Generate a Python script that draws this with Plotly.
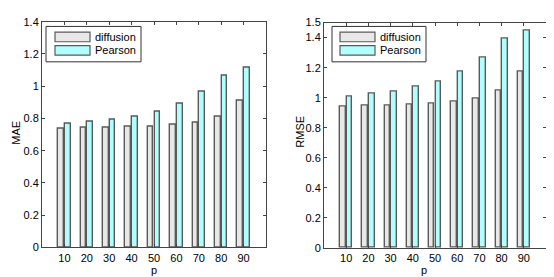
import plotly.graph_objects as go

p_vals = [10, 20, 30, 40, 50, 60, 70, 80, 90]
mae_diffusion = [0.737, 0.740, 0.742, 0.746, 0.750, 0.760, 0.776, 0.814, 0.908]
mae_pearson = [0.766, 0.777, 0.790, 0.811, 0.840, 0.889, 0.964, 1.064, 1.114]
rmse_diffusion = [0.944, 0.947, 0.950, 0.955, 0.960, 0.974, 0.994, 1.045, 1.173]
rmse_pearson = [1.008, 1.025, 1.042, 1.071, 1.110, 1.175, 1.270, 1.392, 1.450]
series_names = ["diffusion", "Pearson"]

W, H = 554, 277
FONT = "Liberation Sans, Arial, Helvetica, sans-serif"
DIFF_FILL = "#e8e8e8"
PEAR_FILL = "#b0ffff"
EDGE = "#5a5a5a"


def px_x(v):
    return v / W


def px_y(v):
    return 1 - v / H


fig = go.Figure()

bar_w = 2.45
for xa, ya, d_vals, p_vals_s in [("x", "y", mae_diffusion, mae_pearson),
                                 ("x2", "y2", rmse_diffusion, rmse_pearson)]:
    fig.add_trace(go.Bar(x=p_vals, y=d_vals, name=series_names[0], xaxis=xa, yaxis=ya,
                         width=bar_w, offset=-2.75,
                         marker=dict(color=DIFF_FILL, line=dict(color=EDGE, width=1.4)),
                         showlegend=False))
    fig.add_trace(go.Bar(x=p_vals, y=p_vals_s, name=series_names[1], xaxis=xa, yaxis=ya,
                         width=bar_w, offset=0.3,
                         marker=dict(color=PEAR_FILL, line=dict(color=EDGE, width=1.4)),
                         showlegend=False))

axis_common = dict(showgrid=False, zeroline=False, showline=True, linecolor="#444444",
                   linewidth=1, mirror="ticks", ticks="inside", ticklen=3,
                   tickcolor="#444444", tickfont=dict(family=FONT, size=11, color="black"))

fig.update_layout(
    width=W, height=H, margin=dict(l=0, r=0, t=0, b=0),
    paper_bgcolor="white", plot_bgcolor="white",
    barmode="overlay", bargap=0,
    font=dict(family=FONT, size=11, color="black"),
    xaxis=dict(domain=[px_x(34), px_x(258)], range=[0, 100], anchor="y",
               tickvals=p_vals, ticktext=[str(v) for v in p_vals], **axis_common),
    yaxis=dict(domain=[px_y(244), px_y(8)], range=[0, 1.4], anchor="x",
               tickvals=[0, 0.2, 0.4, 0.6, 0.8, 1, 1.2, 1.4],
               ticktext=["0", "0.2", "0.4", "0.6", "0.8", "1", "1.2", "1.4"], **axis_common),
    xaxis2=dict(domain=[px_x(316), px_x(538)], range=[0, 100], anchor="y2",
                tickvals=p_vals, ticktext=[str(v) for v in p_vals], **axis_common),
    yaxis2=dict(domain=[px_y(244.5), px_y(9)], range=[0, 1.5], anchor="x2",
                tickvals=[0, 0.2, 0.4, 0.6, 0.8, 1, 1.2, 1.4, 1.5],
                ticktext=["0", "0.2", "0.4", "0.6", "0.8", "1", "1.2", "1.4", "1.5"], **axis_common),
)

shapes = []
annotations = []


def label(text, x, y, angle=0):
    annotations.append(dict(text=text, x=px_x(x), y=px_y(y), xref="paper", yref="paper",
                            xanchor="center", yanchor="middle", showarrow=False,
                            textangle=angle, font=dict(family=FONT, size=11)))


# axis titles
label("p", 146, 268)
label("p", 416, 268)
label("MAE", 8, 124, -90)
label("RMSE", 292, 123, -90)

# legends
for bx0, bx1, sx0, sx1, tx in [(38, 133, 47, 82, 85), (324, 418, 332, 367, 370)]:
    shapes.append(dict(type="rect", xref="paper", yref="paper",
                       x0=px_x(bx0), x1=px_x(bx1), y0=px_y(50), y1=px_y(13),
                       line=dict(color="#333333", width=1), fillcolor="white"))
    for (sy0, sy1), fill, name in [((19, 29), DIFF_FILL, series_names[0]),
                                   ((33, 43), PEAR_FILL, series_names[1])]:
        shapes.append(dict(type="rect", xref="paper", yref="paper",
                           x0=px_x(sx0), x1=px_x(sx1), y0=px_y(sy1), y1=px_y(sy0),
                           line=dict(color=EDGE, width=1.2), fillcolor=fill))
        annotations.append(dict(text=name, x=px_x(tx), y=px_y((sy0 + sy1) / 2),
                                xref="paper", yref="paper", xanchor="left", yanchor="middle",
                                showarrow=False, font=dict(family=FONT, size=11)))

fig.update_layout(shapes=shapes, annotations=annotations)

fig.write_html("out.html")
